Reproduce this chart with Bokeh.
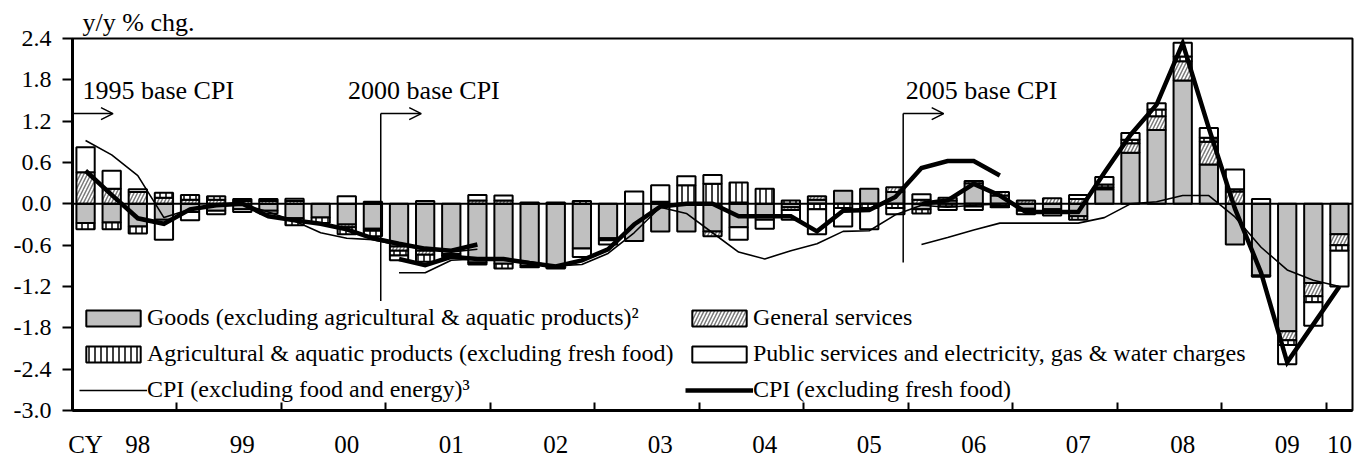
import numpy as np
from bokeh.plotting import figure
from bokeh.models import (Range1d, FixedTicker, NumeralTickFormatter, Legend, LegendItem,
                          Span, Label, Arrow, OpenHead, ColumnDataSource)
from bokeh.core.properties import value
from bokeh.embed import file_html
from bokeh.resources import INLINE

FONT = "Liberation Serif"

# ---------------- data (quarterly, 1998Q1 .. 2010Q1) ----------------
year_labels = ["CY", "98", "99", "00", "01", "02", "03", "04", "05", "06", "07", "08", "09", "10"]
y_ticks = [-3.0, -2.4, -1.8, -1.2, -0.6, 0.0, 0.6, 1.2, 1.8, 2.4]

# contributions (percentage points)
goods = [-0.28, -0.27, -0.33, -0.23, -0.12, -0.10, -0.08, -0.10,
         -0.21, -0.20, -0.30, -0.36,
         -0.62, -0.68, -0.73, -0.85,
         -0.87, -0.90, -0.92, -0.65,
         -0.50, -0.54, -0.40, -0.40,
         -0.40, -0.34, -0.23, -0.05,
         0.06, 0.19, 0.22, 0.17,
         -0.08, 0.05, 0.30, 0.12,
         -0.07, -0.08, -0.18, 0.21,
         0.74, 1.07, 1.79, 0.57,
         -0.59, -1.04, -1.85, -1.15,
         -0.44]
general = [0.46, 0.22, 0.17, 0.09, 0.06, 0.06, 0.04, 0.04,
           0.04, 0.00, -0.04, -0.03,
           -0.06, -0.06, 0.00, 0.05,
           0.05, 0.00, 0.00, 0.00,
           0.00, 0.00, 0.00, 0.00,
           -0.07, 0.02, 0.00, -0.04,
           0.05, 0.00, 0.00, 0.07,
           0.06, 0.04, 0.03, 0.05,
           0.05, 0.08, 0.07, 0.03,
           0.14, 0.20, 0.28, 0.33,
           0.18, 0.00, -0.13, -0.19,
           -0.16]
agri = [-0.09, -0.10, -0.10, 0.07, 0.07, 0.05, 0.03, 0.03,
        -0.10, -0.08, -0.10, -0.08,
        -0.07, -0.10, -0.02, -0.03,
        -0.07, -0.02, -0.02, 0.04,
        -0.03, 0.00, 0.03, 0.27,
        0.29, 0.29, 0.22, 0.05,
        -0.08, -0.06, -0.06, -0.06,
        -0.06, -0.04, -0.04, -0.03,
        -0.03, -0.03, -0.05, 0.04,
        0.05, 0.10, 0.07, 0.06,
        0.03, -0.02, -0.07, -0.09,
        -0.08]
public = [0.36, 0.26, 0.04, -0.29, -0.12, -0.05, -0.04, -0.04,
          0.035, 0.00, 0.11, 0.03,
          -0.07, 0.04, -0.03, 0.08,
          0.07, 0.02, 0.02, -0.12,
          -0.06, 0.18, 0.24, 0.13,
          0.13, -0.18, -0.13, -0.14,
          -0.36, -0.27, -0.31, -0.09,
          0.08, -0.05, -0.05, -0.02,
          -0.05, -0.06, 0.06, 0.11,
          0.10, 0.09, 0.20, 0.14,
          0.29, 0.07, -0.28, -0.34,
          -0.52]

# CPI lines, one segment per base year (first quarter index of each base)
base_start = [0, 12, 32]
core_95 = [0.48, 0.13, -0.21, -0.29, -0.08, -0.02, 0.0, -0.18, -0.24, -0.29, -0.37, -0.50,
           -0.58, -0.65, -0.68, -0.59]
corecore_95 = [0.92, 0.71, 0.41, -0.20, -0.08, -0.02, 0.0, -0.12, -0.25, -0.42, -0.50, -0.52,
               -0.60, -0.66, -0.70, -0.66]
core_00 = [-0.80, -0.89, -0.77, -0.80, -0.80, -0.86, -0.91, -0.82, -0.66, -0.30, -0.04, 0.0,
           0.0, -0.18, -0.18, -0.18, -0.40, -0.10, -0.09, 0.10, 0.52, 0.62, 0.62, 0.41]
corecore_00 = [-1.00, -1.00, -0.82, -0.80, -0.80, -0.84, -0.90, -0.88, -0.72, -0.42, -0.05, -0.14,
               -0.42, -0.70, -0.80, -0.68, -0.58, -0.40, -0.39, -0.16, -0.02, -0.05, -0.02, 0.0]
core_05 = [0.0, 0.05, 0.29, 0.12, -0.12, -0.12, -0.12, 0.45, 1.00, 1.44, 2.33, 1.10,
           -0.07, -1.00, -2.30, -1.75, -1.20]
corecore_05 = [-0.59, -0.49, -0.38, -0.28, -0.28, -0.28, -0.28, -0.20, 0.0, 0.03, 0.12, 0.12,
               -0.19, -0.63, -0.96, -1.11, -1.20]

base_names = ["1995 base CPI", "2000 base CPI", "2005 base CPI"]
series_names = ["Goods (excluding agricultural & aquatic products)\u00b2",
                "General services",
                "Agricultural & aquatic products (excluding fresh food)",
                "Public services and electricity, gas & water charges",
                "CPI (excluding food and energy)\u00b3",
                "CPI (excluding fresh food)"]

# ---------------- figure ----------------
n = len(goods)
q = np.arange(n)

p = figure(width=1354, height=460, x_range=Range1d(-0.5, n - 0.5), y_range=Range1d(-3.0, 2.4),
           output_backend="svg", toolbar_location=None,
           min_border_left=72, min_border_right=2, min_border_top=38, min_border_bottom=50)
p.xgrid.visible = False
p.ygrid.visible = False
p.outline_line_color = "black"
p.outline_line_width = 2
p.outline_line_alpha = 1
p.background_fill_color = "white"
p.border_fill_color = "white"

p.title.text = "y/y % chg."
p.title.align = "left"
p.title.offset = 10
p.title.text_font = FONT
p.title.text_font_size = "26px"
p.title.text_font_style = "normal"
p.title.text_color = "black"
p.title.standoff = 4

styles = [
    dict(fill_color="#c0c0c0"),
    dict(fill_color="white", hatch_pattern="/", hatch_color="#7a7a7a", hatch_scale=7, hatch_weight=1.5),
    dict(fill_color="white", hatch_pattern="|", hatch_color="black", hatch_scale=6, hatch_weight=1.5),
    dict(fill_color="white"),
]
pos = np.zeros(n)
neg = np.zeros(n)
bar_r = []
for vals, st in zip([goods, general, agri, public], styles):
    v = np.array(vals, dtype=float)
    bottom = np.where(v >= 0, pos, neg)
    top = bottom + v
    pos = np.where(v >= 0, pos + v, pos)
    neg = np.where(v < 0, neg + v, neg)
    m = v != 0
    src = ColumnDataSource(dict(x=q[m], bottom=bottom[m], top=top[m]))
    r = p.vbar(x="x", bottom="bottom", top="top", width=0.7, source=src,
               line_color="black", line_width=2, **st)
    bar_r.append(r)

thin_r, thick_r = [], []
for s, cc in zip(base_start, [corecore_95, corecore_00, corecore_05]):
    x = np.arange(s, s + len(cc))
    thin_r.append(p.line(x, cc, line_color="black", line_width=1.6))
for s, c in zip(base_start, [core_95, core_00, core_05]):
    x = np.arange(s, s + len(c))
    thick_r.append(p.line(x, c, line_color="black", line_width=4.5, line_join="miter"))

p.add_layout(Span(location=0, dimension="width", line_color="black", line_width=2))

# base-change annotations
base_label_x = [-0.12, 10.05, 31.4]
base_line_bottom = [None, -1.41, -0.85]
arrow_y, label_y = 1.31, 1.64
for s, name, lx, yb in zip(base_start, base_names, base_label_x, base_line_bottom):
    p.add_layout(Label(x=lx, y=label_y, text=name, text_font=FONT, text_font_size="26px",
                       text_baseline="middle", text_color="black"))
    x0 = -0.5 if s == 0 else s - 0.7
    if yb is not None:
        p.segment(x0=[x0], y0=[yb], x1=[x0], y1=[arrow_y], line_color="black", line_width=1.5)
    p.add_layout(Arrow(end=OpenHead(size=12, line_width=1.5, line_color="black"),
                       x_start=x0, y_start=arrow_y, x_end=x0 + 1.55, y_end=arrow_y,
                       line_width=1.5, line_color="black"))

# axes
label_pos = [0] + [min(4 * k + 2, n - 1) for k in range(len(year_labels) - 1)]
boundaries = [4 * k - 0.5 for k in range(1, (n - 1) // 4 + 1)]
xa = p.xaxis[0]
xa.ticker = FixedTicker(ticks=label_pos, minor_ticks=boundaries)
xa.major_label_overrides = {pp: lab for pp, lab in zip(label_pos, year_labels)}
xa.major_tick_line_color = None
xa.minor_tick_in = 8
xa.minor_tick_out = 0
xa.minor_tick_line_width = 2
xa.minor_tick_line_color = "black"
xa.axis_line_width = 3
xa.axis_line_color = "black"
xa.major_label_standoff = 14
xa.major_label_text_font = FONT
xa.major_label_text_font_size = "25px"
xa.major_label_text_color = "black"

ya = p.yaxis[0]
ya.ticker = FixedTicker(ticks=y_ticks)
ya.formatter = NumeralTickFormatter(format="0.0")
ya.major_tick_out = 10
ya.major_tick_in = 0
ya.major_tick_line_width = 2
ya.major_tick_line_color = "black"
ya.minor_tick_line_color = None
ya.axis_line_width = 3
ya.axis_line_color = "black"
ya.major_label_standoff = 11
ya.major_label_text_font = FONT
ya.major_label_text_font_size = "24px"
ya.major_label_text_color = "black"

leg_kw = dict(glyph_width=68, glyph_height=20, label_standoff=0, spacing=9, padding=0, margin=0,
              border_line_alpha=0, background_fill_alpha=0, label_text_font=FONT,
              label_text_font_size="24px", label_text_color="black", label_height=25)
leg1 = Legend(items=[LegendItem(label=value(series_names[0]), renderers=[bar_r[0]]),
                     LegendItem(label=value(series_names[2]), renderers=[bar_r[2]]),
                     LegendItem(label=value(series_names[4]), renderers=[thin_r[0]])],
              location=(7, 7), **leg_kw)
leg2 = Legend(items=[LegendItem(label=value(series_names[1]), renderers=[bar_r[1]]),
                     LegendItem(label=value(series_names[3]), renderers=[bar_r[3]]),
                     LegendItem(label=value(series_names[5]), renderers=[thick_r[0]])],
              location=(613, 7), **leg_kw)
p.add_layout(leg1)
p.add_layout(leg2)

open("out.html", "w").write(file_html(p, INLINE))
